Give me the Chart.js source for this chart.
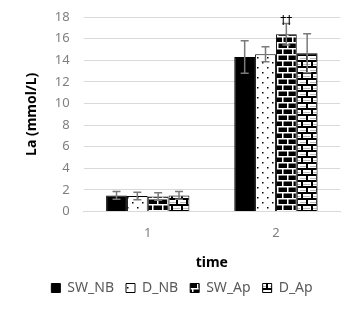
<!DOCTYPE html>
<html>
<head>
<meta charset="utf-8">
<script src="https://cdn.jsdelivr.net/npm/chart.js@4"></script>
<style>
  html, body { margin: 0; padding: 0; background: #fff; }
  #wrap { width: 345px; height: 312px; }
</style>
</head>
<body>
<div id="wrap"><canvas id="chart" width="345" height="312"></canvas></div>
<script>
// data
const categories = ['1', '2'];
const seriesNames = ['SW_NB', 'D_NB', 'SW_Ap', 'D_Ap'];
const swNb = [1.5, 14.3];
const dNb = [1.45, 14.55];
const swAp = [1.4, 16.4];
const dAp = [1.5, 14.65];
const swNbErr = [0.35, 1.5];
const dNbErr = [0.35, 0.7];
const swApErr = [0.35, 1.0];
const dApErr = [0.35, 1.8];
const yTicks = [0, 2, 4, 6, 8, 10, 12, 14, 16, 18];
const marks = [{ series: 2, index: 1, text: '††' }];

// fill patterns
function makePattern(draw, w, h) {
    const c = document.createElement('canvas');
    c.width = w; c.height = h;
    const g = c.getContext('2d');
    draw(g, w, h);
    return g.createPattern(c, 'repeat');
}
const ctx = document.getElementById('chart').getContext('2d');

const dots = makePattern((g, w, h) => {
    g.fillStyle = '#fff'; g.fillRect(0, 0, w, h);
    g.fillStyle = '#000';
    g.fillRect(2, 2, 1.5, 1.5);
    g.fillRect(7, 7, 1.5, 1.5);
}, 10, 10);

const blackBrick = makePattern((g, w, h) => {
    g.fillStyle = '#000'; g.fillRect(0, 0, w, h);
    g.fillStyle = '#fff';
    g.fillRect(0, 0, w, 1.5);
    g.fillRect(0, 6, w, 1.5);
    g.fillRect(2, 0, 1.5, 6);
    g.fillRect(7, 6, 1.5, 6);
}, 10, 12);

const whiteBrick = makePattern((g, w, h) => {
    g.fillStyle = '#fff'; g.fillRect(0, 0, w, h);
    g.fillStyle = '#000';
    g.fillRect(0, 0, w, 2);
    g.fillRect(0, 6, w, 2);
    g.fillRect(1, 0, 2, 6);
    g.fillRect(6, 6, 2, 6);
    g.fillStyle = '#bbb';
    g.fillRect(3, 4, 7, 1);
    g.fillRect(0, 10, 6, 1);
}, 10, 12);

const errs = [swNbErr, dNbErr, swApErr, dApErr];

const errorBars = {
    id: 'errorBars',
    afterDatasetsDraw(chart) {
        const c = chart.ctx;
        const y = chart.scales.y;
        c.save();
        c.strokeStyle = '#7a7a7a';
        c.lineWidth = 1.5;
        chart.data.datasets.forEach((ds, di) => {
            const meta = chart.getDatasetMeta(di);
            meta.data.forEach((bar, i) => {
                const v = ds.data[i], e = errs[di][i];
                const yt = y.getPixelForValue(v + e);
                const yb = y.getPixelForValue(v - e);
                c.beginPath();
                c.moveTo(bar.x, yt); c.lineTo(bar.x, yb);
                c.moveTo(bar.x - 4, yt); c.lineTo(bar.x + 4, yt);
                c.moveTo(bar.x - 4, yb); c.lineTo(bar.x + 4, yb);
                c.stroke();
            });
        });
        c.fillStyle = '#000';
        c.font = '12px "DejaVu Sans"';
        c.textAlign = 'center';
        c.textBaseline = 'bottom';
        marks.forEach(m => {
            const bar = chart.getDatasetMeta(m.series).data[m.index];
            const v = chart.data.datasets[m.series].data[m.index] + errs[m.series][m.index];
            c.fillText(m.text, bar.x, y.getPixelForValue(v) + 3);
        });
        c.restore();
    }
};

new Chart(ctx, {
    type: 'bar',
    data: {
        labels: categories,
        datasets: [
            { label: seriesNames[0], data: swNb, backgroundColor: '#000' },
            { label: seriesNames[1], data: dNb, backgroundColor: dots },
            { label: seriesNames[2], data: swAp, backgroundColor: blackBrick },
            { label: seriesNames[3], data: dAp, backgroundColor: whiteBrick }
        ].map(d => Object.assign(d, {
            borderColor: '#000',
            borderWidth: 1,
            categoryPercentage: 0.65,
            barPercentage: 1
        }))
    },
    options: {
        responsive: false,
        animation: false,
        layout: { padding: { left: 24, right: 5, top: 0, bottom: 7 } },
        scales: {
            x: {
                grid: { display: false },
                border: { color: '#d9d9d9' },
                ticks: { color: '#7f7f7f', font: { family: 'Noto Sans', size: 13 }, padding: 6 },
                title: {
                    display: true, text: 'time', color: '#000',
                    font: { family: 'Noto Sans', size: 14, weight: 'bold' }, padding: { top: 7, bottom: -2 }
                }
            },
            y: {
                min: 0, max: 18,
                afterBuildTicks: axis => { axis.ticks = yTicks.map(v => ({ value: v })); },
                afterFit: axis => { axis.paddingTop = 17; },
                grid: { color: '#d9d9d9', drawTicks: false },
                border: { display: false },
                ticks: { color: '#7f7f7f', font: { family: 'Noto Sans', size: 13 }, padding: 14 },
                title: {
                    display: true, text: 'La (mmol/L)', color: '#000',
                    font: { family: 'Noto Sans', size: 14, weight: 'bold' }, padding: 0
                }
            }
        },
        plugins: {
            legend: {
                position: 'bottom',
                labels: {
                    boxWidth: 9, boxHeight: 9, color: '#595959',
                    font: { family: 'Noto Sans', size: 14 }, padding: 12
                }
            },
            tooltip: { enabled: false }
        }
    },
    plugins: [errorBars]
});
</script>
</body>
</html>
